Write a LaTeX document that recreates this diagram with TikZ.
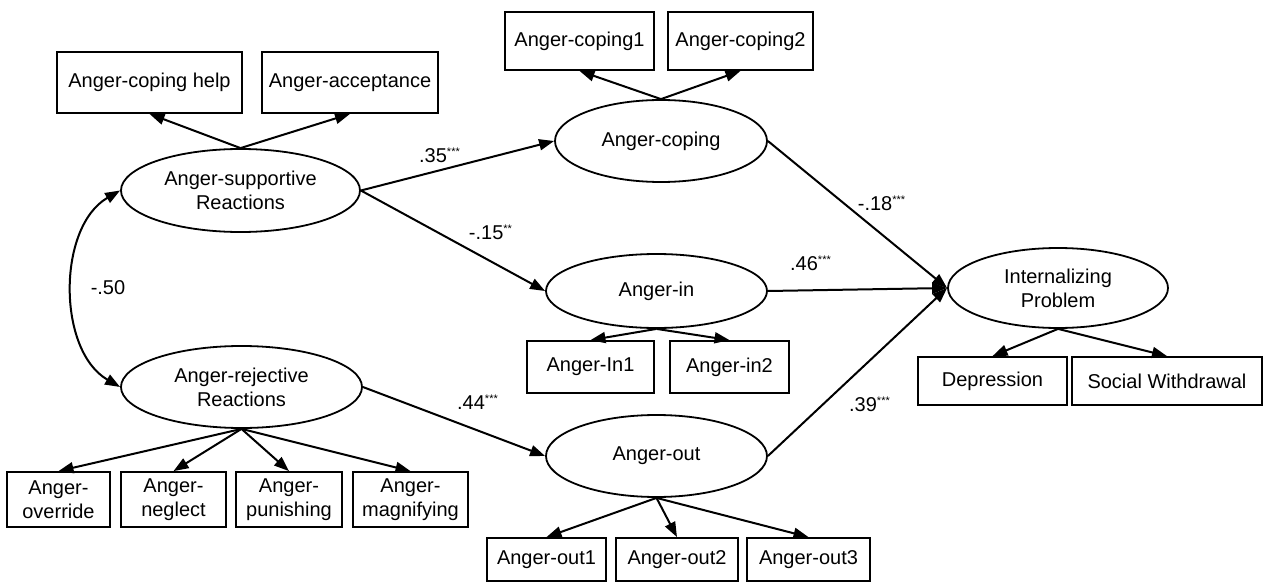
\documentclass[tikz,border=0pt]{standalone}
\usepackage{fontspec}
\setmainfont{Liberation Sans}
\usetikzlibrary{shapes.geometric,arrows.meta}
\newcommand\mystars[1]{\textsuperscript{\fontsize{5.5}{6}\selectfont #1}}
\begin{document}
\begin{tikzpicture}[x=0.5pt,y=-0.5pt,
  every node/.style={font=\fontsize{10}{12}\selectfont},
  box/.style={draw,line width=0.9pt,rectangle,inner sep=0pt,align=center},
  lat/.style={draw,line width=0.9pt,ellipse,inner sep=0pt,align=center},
  arr/.style={-{Triangle[length=7.5pt,width=5.5pt]},line width=1pt},
  darr/.style={{Triangle[length=7.5pt,width=5.5pt]}-{Triangle[length=7.5pt,width=5.5pt]},line width=1pt},
  lbl/.style={inner sep=0pt}]
\useasboundingbox (0,0) rectangle (1264,583);

% latent variables
\node[lat,minimum width=119.5pt,minimum height=41.5pt] (sup) at (240.5,190.5) {Anger-supportive\\Reactions};
\node[lat,minimum width=120.5pt,minimum height=41pt] (rej) at (241.5,387) {Anger-rejective\\Reactions};
\node[lat,minimum width=106pt,minimum height=41pt] (cop) at (661,141) {Anger-coping};
\node[lat,minimum width=110.5pt,minimum height=37pt] (ain) at (656.5,291) {Anger-in};
\node[lat,minimum width=110.5pt,minimum height=41pt] (aout) at (656.5,456) {Anger-out};
\node[lat,minimum width=110pt,minimum height=40pt] (int) at (1058,288) {Internalizing\\Problem};

% indicators
\node[box,minimum width=92.5pt,minimum height=30.5pt] (h1) at (149.5,82.5) {Anger-coping help};
\node[box,minimum width=88pt,minimum height=30.5pt] (h2) at (350,82.5) {Anger-acceptance};
\node[box,minimum width=74.5pt,minimum height=29pt] (c1) at (579.5,41) {Anger-coping1};
\node[box,minimum width=72.5pt,minimum height=29pt] (c2) at (740.5,41) {Anger-coping2};
\node[box,minimum width=63.5pt,minimum height=26pt] (i1) at (590.5,367) {Anger-In1};
\node[box,minimum width=59.5pt,minimum height=26pt] (i2) at (729.5,367) {Anger-in2};
\node[box,minimum width=51.5pt,minimum height=27.5pt] (r1) at (58.5,499.5) {Anger-\\override};
\node[box,minimum width=52.5pt,minimum height=27.5pt] (r2) at (173.5,499.5) {Anger-\\neglect};
\node[box,minimum width=53pt,minimum height=27.5pt] (r3) at (289,499.5) {Anger-\\punishing};
\node[box,minimum width=57.5pt,minimum height=27.5pt] (r4) at (410.5,499.5) {Anger-\\magnifying};
\node[box,minimum width=59.5pt,minimum height=21.5pt] (o1) at (546.5,559.5) {Anger-out1};
\node[box,minimum width=61pt,minimum height=21.5pt] (o2) at (677,559.5) {Anger-out2};
\node[box,minimum width=61.5pt,minimum height=21.5pt] (o3) at (808.5,559.5) {Anger-out3};
\node[box,minimum width=74.5pt,minimum height=24pt] (dep) at (992.5,381) {Depression};
\node[box,minimum width=95pt,minimum height=24pt] (sw) at (1167,381) {Social Withdrawal};

% measurement arrows
\draw[arr] (sup.north) -- (h1.south);
\draw[arr] (sup.north) -- (h2.south);
\draw[arr] (cop.north) -- (c1.south);
\draw[arr] (cop.north) -- (c2.south);
\draw[arr] (ain.south) -- (i1.north);
\draw[arr] (ain.south) -- (i2.north);
\draw[arr] (rej.south) -- (r1.north);
\draw[arr] (rej.south) -- (r2.north);
\draw[arr] (rej.south) -- (r3.north);
\draw[arr] (rej.south) -- (r4.north);
\draw[arr] (aout.south) -- (o1.north);
\draw[arr] (aout.south) -- (o2.north);
\draw[arr] (aout.south) -- (o3.north);
\draw[arr] (int.south) -- (dep.north);
\draw[arr] (int.south) -- (sw.north);

% structural paths
\draw[arr] (sup.east) -- (cop.west);
\draw[arr] (sup.east) -- (ain.west);
\draw[arr] (rej.east) -- (aout.west);
\draw[arr] (cop.east) -- (int.west);
\draw[arr] (ain.east) -- (int.west);
\draw[arr] (aout.east) -- (int.west);
\draw[darr] (sup.west) to[out=210,in=150,looseness=0.95] (rej.west);

% labels
\node[lbl] (l35) at (440,155) {.35\mystars{***}};
\node[lbl] (l15) at (491,232) {-.15\mystars{**}};
\node[lbl] (l18) at (882,203) {-.18\mystars{***}};
\node[lbl] (l46) at (811,263) {.46\mystars{***}};
\node[lbl] (l44) at (478,402) {.44\mystars{***}};
\node[lbl] (l39) at (870,404) {.39\mystars{***}};
\node[lbl] (l50) at (108,288) {-.50};
\end{tikzpicture}
\end{document}
